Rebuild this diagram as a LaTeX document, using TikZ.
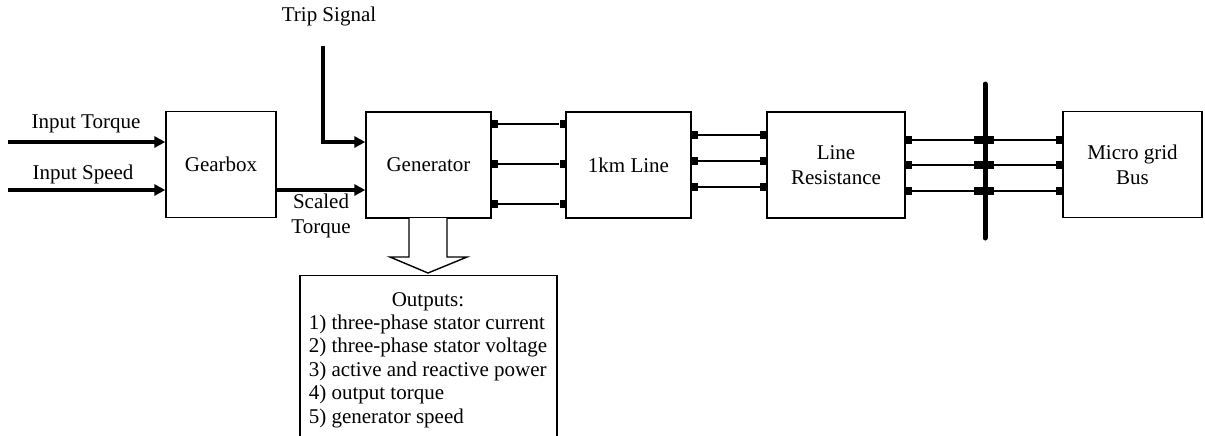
\documentclass[tikz,border=0pt]{standalone}
\usepackage{fontspec}
\setmainfont{Liberation Serif}
\usetikzlibrary{arrows.meta,calc}
\begin{document}
\begin{tikzpicture}[x=0.5pt,y=-0.5pt,
  font=\fontsize{10.5}{12.6}\selectfont,
  blockbox/.style={draw,line width=0.7pt,minimum height=53pt,inner sep=0pt,align=center},
  port/.style={fill=black,inner sep=0pt,minimum width=3.5pt,minimum height=4pt},
  busport/.style={fill=black,inner sep=0pt,minimum width=10pt,minimum height=4pt},
  sig/.style={line width=1.6pt,-{Triangle[length=5.5pt,width=5.5pt]}},
  wire/.style={line width=0.7pt},
  lbl/.style={inner sep=0pt,align=center}]
\path[use as bounding box] (0,0) rectangle (1205,435);
\clip (0,0) rectangle (1205,435);

% blocks
\node[blockbox,minimum width=55pt] (gear) at (221,164.5) {Gearbox};
\node[blockbox,minimum width=62.5pt] (gen) at (428.5,165) {Generator};
\node[blockbox,minimum width=62.5pt] (line) at (628.5,165) {1km Line};
\node[blockbox,minimum width=69pt] (lres) at (836,165) {Line\\Resistance};
\node[blockbox,minimum width=69.5pt] (mgb) at (1132.5,164.5) {Micro grid\\Bus};

% inputs
\coordinate (inT) at (8,142);
\coordinate (inS) at (8,190);
\coordinate (tripstart) at (323,46);
\node[lbl] (lblT) at (86,124) {Input Torque};
\node[lbl] (lblS) at (83,174) {Input Speed};
\node[lbl] (lblTrip) at (329,16) {Trip Signal};
\node[lbl] (lblScaled) at (321,216) {Scaled\\Torque};
\draw[sig] (inT) -- (gear.west |- inT);
\draw[sig] (inS) -- (gear.west |- inS);
\draw[sig] (gear.east |- inS) -- (gen.west |- inS);
\draw[sig] (tripstart) |- (gen.west |- inT);

% ports generator -> line
\foreach \i/\y in {1/124,2/164,3/204}{
  \node[port] (gp\i) at (494.5,\y) {};
  \node[port] (la\i) at (563,\y) {};
  \draw[wire] (gp\i) -- (la\i);
}
% ports line -> resistance
\foreach \i/\y in {1/135,2/161,3/187}{
  \node[port] (lb\i) at (694.5,\y) {};
  \node[port] (ra\i) at (763.5,\y) {};
  \draw[wire] (lb\i) -- (ra\i);
}
% bus bar
\coordinate (bustop) at (985,84);
\coordinate (busbot) at (985,238);
\draw[line width=2.5pt,line cap=round] (bustop) -- (busbot);
% ports resistance -> bus -> micro grid
\foreach \i/\y in {1/140,2/165,3/191}{
  \node[port] (rb\i) at (908.5,\y) {};
  \node[busport] (bp\i) at (984,\y) {};
  \node[port] (mp\i) at (1059.5,\y) {};
  \draw[wire] (rb\i) -- (bp\i) -- (mp\i);
}

% hollow output arrow
\draw[wire,fill=white] (409,218) -- (409,257) -- (390,257) -- (428,273) -- (467,257) -- (447,257) -- (447,218);

% outputs box
\node[draw,line width=0.7pt,minimum width=128.5pt,minimum height=90pt,anchor=north,inner sep=0pt] (outbox) at (428.5,275) {};
\node[anchor=base,inner sep=0pt] (outtext) at (428,306) {\def\arraystretch{0.93}\begin{tabular}[t]{@{}l@{}}
\multicolumn{1}{@{}c@{}}{Outputs:}\\
1) three-phase stator current\\
2) three-phase stator voltage\\
3) active and reactive power\\
4) output torque\\
5) generator speed
\end{tabular}};
\end{tikzpicture}
\end{document}
